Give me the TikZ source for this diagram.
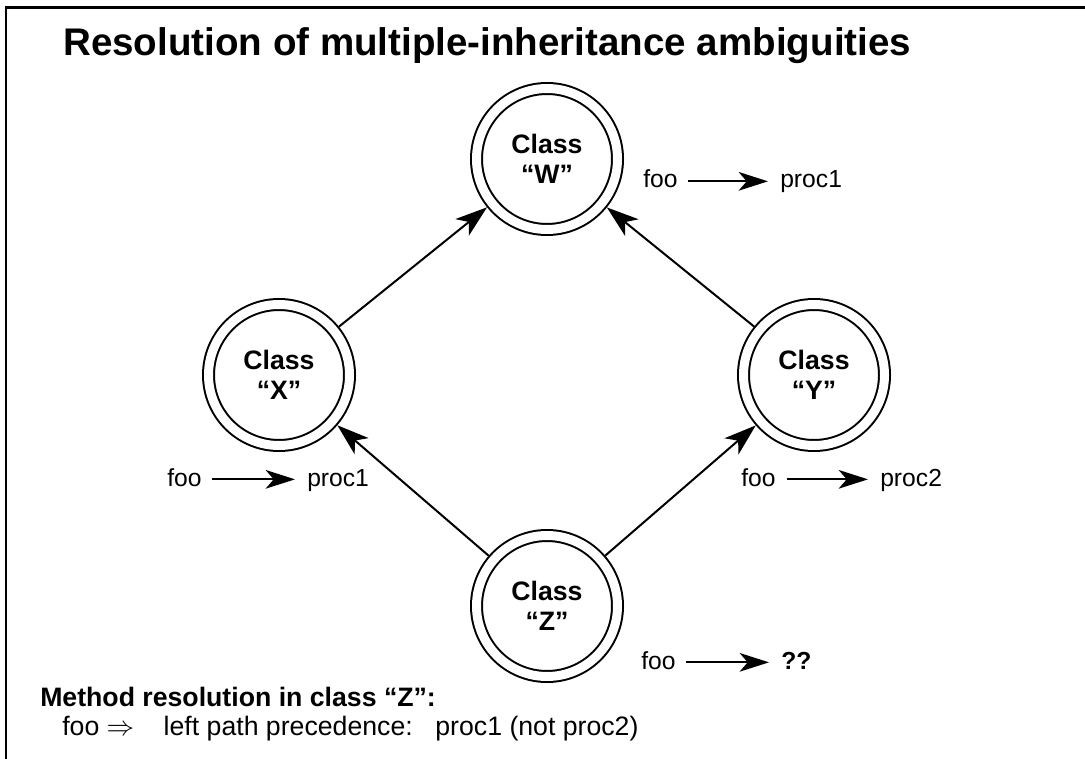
\documentclass[tikz,border=0pt]{standalone}
\usepackage{fontspec}
\setmainfont{Liberation Sans}
\usetikzlibrary{arrows.meta}
\begin{document}
\begin{tikzpicture}[x=0.75pt,y=-0.75pt,
  cls/.style={circle,draw,line width=1.5pt,double,double distance=6.75pt,
    minimum size=105.75pt,inner sep=0pt,outer sep=4.875pt,align=center,
    font=\bfseries\fontsize{20}{22.5}\selectfont},
  lbl/.style={anchor=base west,inner sep=0pt,font=\fontsize{18.5}{22}\selectfont},
  inh/.style={line width=1.5pt,-{Stealth[length=24pt,width=16pt,inset=6.5pt]}},
  maps/.style={line width=1.5pt,-{Stealth[length=22pt,width=14pt,inset=6pt]},
    shorten <=8pt,shorten >=9pt}]
\useasboundingbox (0,0) rectangle (1085,759);

% frame (top and left edges)
\coordinate (frtop) at (1085,7.5);
\coordinate (frcorner) at (6,7.5);
\coordinate (frbottom) at (6,759);
\draw[line width=1.65pt] (frtop) -- (frcorner) -- (frbottom);

% title
\node[anchor=base west,inner sep=0pt,font=\bfseries\fontsize{28.9}{32}\selectfont]
  (title) at (63,56) {Resolution of multiple-inheritance ambiguities};

% classes
\node[cls] (w) at (547,159) {Class\\“W”};
\node[cls] (x) at (279,375) {Class\\“X”};
\node[cls] (y) at (814,375) {Class\\“Y”};
\node[cls] (z) at (547,606) {Class\\“Z”};

% inheritance links
\draw[inh] (x) -- (w);
\draw[inh] (y) -- (w);
\draw[inh] (z) -- (x);
\draw[inh] (z) -- (y);

% method tables
\node[lbl] (wf) at (643,188) {foo};
\node[lbl] (wp) at (780,188) {proc1};
\node[lbl] (xf) at (167,486) {foo};
\node[lbl] (xp) at (307,486) {proc1};
\node[lbl] (yf) at (741,486) {foo};
\node[lbl] (yp) at (880,486) {proc2};
\node[lbl] (zf) at (641,669) {foo};
\node[lbl,font=\bfseries\fontsize{18.5}{22}\selectfont] (zp) at (781,669) {??};

\draw[maps] ([yshift=5pt]wf.base east) -- ([yshift=5pt]wp.base west);
\draw[maps] ([yshift=5pt]xf.base east) -- ([yshift=5pt]xp.base west);
\draw[maps] ([yshift=5pt]yf.base east) -- ([yshift=5pt]yp.base west);
\draw[maps] ([yshift=5pt]zf.base east) -- ([yshift=5pt]zp.base west);

% resolution note
\node[anchor=base west,inner sep=0pt,font=\bfseries\fontsize{20}{24}\selectfont]
  (note) at (40,706) {Method resolution in class “Z”:};
\node[anchor=base west,inner sep=0pt,font=\fontsize{20}{24}\selectfont]
  (rule) at (62,735) {foo \smash{$\Rightarrow$}\hspace{1.1em}left path precedence:\hspace{0.85em}proc1 (not proc2)};
\end{tikzpicture}
\end{document}
